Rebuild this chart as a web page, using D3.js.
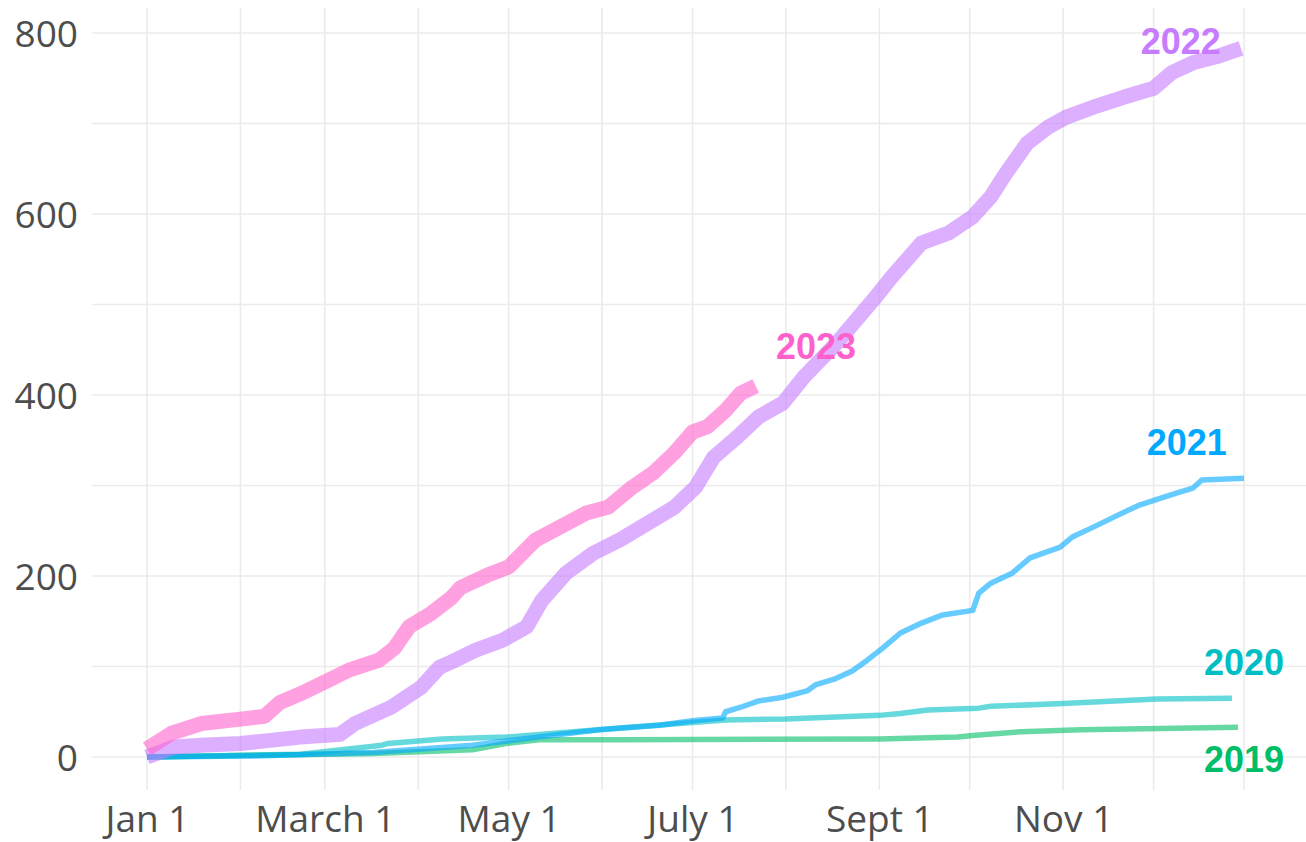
<!DOCTYPE html>
<html lang="en">
<head>
<meta charset="UTF-8">
<title>Cumulative count by year</title>
<script src="https://d3js.org/d3.v7.min.js"></script>
<style>
body { margin: 0; background: #fff; }
svg { display: block; }
.tick-label { font-family: "Open Sans", sans-serif; font-size: 37px; fill: #4d4d4d; }
.year-label { font-family: "Liberation Sans", Arial, sans-serif; font-size: 36px; font-weight: bold; }
</style>
</head>
<body>
<svg id="chart" width="1306" height="842"></svg>
<script>
// each point: [day of year (0 = Jan 1), cumulative value]
var s2019 = [[0,0],[75,4],[108,8],[119,15],[130,19],[157,19],[243,20],[269,22],[275,24],[290,28],[310,30],[362,33]];
var s2020 = [[0,0],[51,3],[78,13],[80,15],[98,20],[119,22],[157,32],[181,38],[192,41],[212,42],[243,46],[250,48],
  [259,52],[276,54],[280,56],[304,59],[316,61],[335,64],[360,65]];
var s2021 = [[0,0],[34,1],[75,5],[108,13],[130,22],[150,30],[170,35],[181,40],[191,43],[192,50],[197,55],[203,62],
  [211,66],[219,73],[222,80],[228,86],[234,95],[239,107],[244,120],[250,137],[257,148],[264,157],[274,162],
  [276,181],[280,192],[287,203],[293,220],[303,232],[307,243],[314,254],[322,267],[329,278],[340,290],
  [347,297],[350,306],[364,308]];
var s2022 = [[0,0],[9,11],[18,13],[31,15],[37,17],[51,22],[64,25],[69,37],[81,55],[91,77],[97,99],[101,105],
  [109,118],[118,129],[126,144],[131,173],[139,203],[148,225],[157,240],[166,258],[175,276],[182,298],
  [188,331],[196,354],[203,376],[211,391],[218,420],[229,458],[241,505],[247,530],[257,568],[266,579],
  [274,597],[280,619],[285,645],[292,678],[299,696],[305,707],[314,718],[324,729],[334,739],[340,756],
  [347,767],[355,774],[363,783]];
var s2023 = [[0,9],[8,26],[18,37],[34,43],[39,45],[44,60],[51,70],[59,83],[67,96],[77,107],[82,120],[87,144],
  [94,158],[101,176],[104,187],[113,201],[120,210],[129,240],[137,254],[146,270],[153,276],[161,298],
  [168,314],[175,336],[181,359],[186,365],[192,383],[197,402],[202,410]];

var years = ["2019", "2020", "2021", "2022", "2023"];
var seriesList = [s2019, s2020, s2021, s2022, s2023];
var colors = ["#00BE67", "#00BFC4", "#00A9FF", "#C77CFF", "#FF61CC"];
var widths = [5.5, 5.5, 5.5, 15, 15];
// where each year label sits: [day, value]
var labelPos = [[364,-17],[364,91],[345,334],[343,777],[222,440]];

var yTicks = [0, 200, 400, 600, 800];
var yGrid = [0, 100, 200, 300, 400, 500, 600, 700, 800];
var xTickDays = [0, 59, 120, 181, 243, 304];
var xTickLabels = ["Jan 1", "March 1", "May 1", "July 1", "Sept 1", "Nov 1"];
var xGridDays = [0, 31, 59, 90, 120, 151, 181, 212, 243, 273, 304, 334, 364];

function toDate(day) { return new Date(Date.UTC(2022, 0, 1 + day)); }

var svg = d3.select("#chart"),
  W = +svg.attr("width"),
  x = d3.scaleUtc().domain([toDate(0), toDate(364)]).range([147, 1244]),
  y = d3.scaleLinear().domain([0, 800]).range([757, 33]);

// grid
svg.append("g").selectAll("line").data(yGrid).join("line")
  .attr("x1", 92).attr("x2", W)
  .attr("y1", function(d) { return y(d); }).attr("y2", function(d) { return y(d); })
  .attr("stroke", "#ebebeb").attr("stroke-width", 1.6);
svg.append("g").selectAll("line").data(xGridDays).join("line")
  .attr("x1", function(d) { return x(toDate(d)); }).attr("x2", function(d) { return x(toDate(d)); })
  .attr("y1", 8).attr("y2", 790)
  .attr("stroke", "#ebebeb").attr("stroke-width", 1.6);

// axes, labels only
var yAxis = svg.append("g").attr("transform", "translate(92,0)")
  .call(d3.axisLeft(y).tickValues(yTicks).tickSize(0).tickPadding(14));
var xAxis = svg.append("g").attr("transform", "translate(0,800)")
  .call(d3.axisBottom(x).tickValues(xTickDays.map(toDate)).tickSize(0)
    .tickFormat(function(d, i) { return xTickLabels[i]; }));
[yAxis, xAxis].forEach(function(a) {
  a.select(".domain").remove();
  a.selectAll("text").attr("class", "tick-label").attr("font-family", null).attr("font-size", null);
});
yAxis.selectAll("text").attr("dy", "0.36em");
xAxis.selectAll("text").attr("y", 32).attr("dy", 0);

// lines
var line = d3.line()
  .x(function(d) { return x(toDate(d[0])); })
  .y(function(d) { return y(d[1]); })
  .curve(d3.curveLinear);

seriesList.forEach(function(s, i) {
  svg.append("path")
    .datum(s)
    .attr("d", line)
    .attr("fill", "none")
    .attr("stroke", colors[i])
    .attr("stroke-opacity", 0.6)
    .attr("stroke-width", widths[i])
    .attr("stroke-linejoin", "round")
    .attr("stroke-linecap", "butt");
});

// year labels
svg.append("g").selectAll("text").data(years).join("text")
  .attr("class", "year-label")
  .attr("x", function(d, i) { return x(toDate(labelPos[i][0])); })
  .attr("y", function(d, i) { return y(labelPos[i][1]); })
  .attr("text-anchor", "middle")
  .attr("fill", function(d, i) { return colors[i]; })
  .text(function(d) { return d; });
</script>
</body>
</html>
